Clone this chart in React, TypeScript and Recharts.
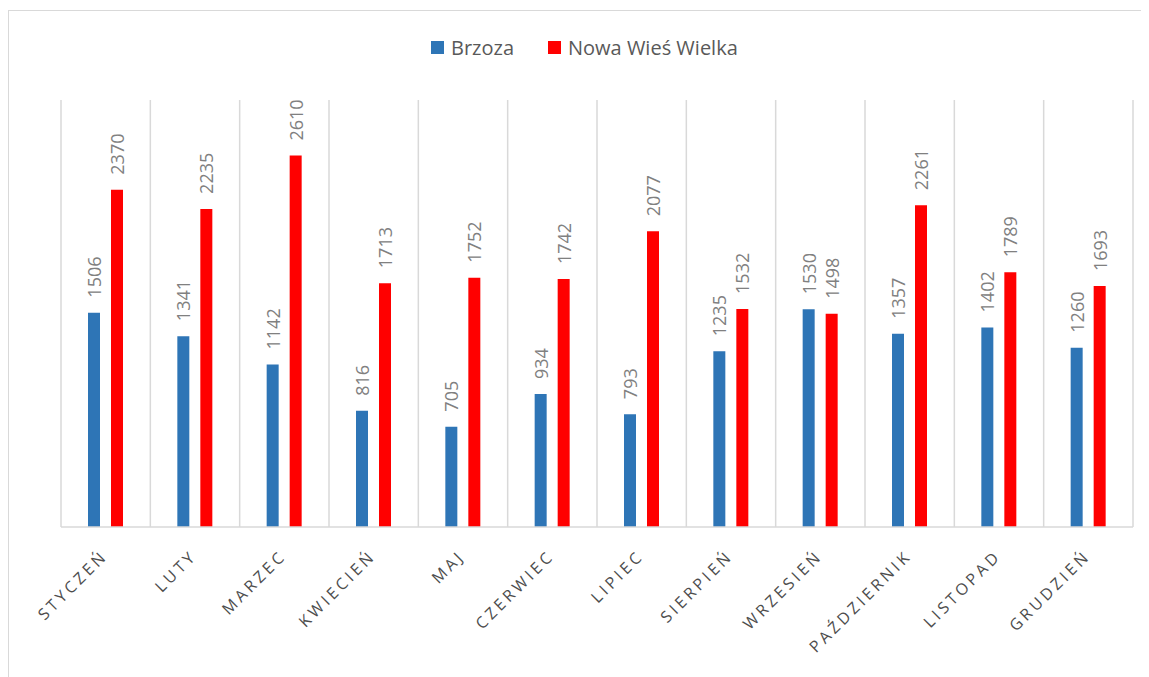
import React from 'react';
import {
  BarChart,
  Bar,
  XAxis,
  YAxis,
  CartesianGrid,
  Legend,
  LabelList
} from 'recharts';

// Data
const MONTHS = [
  'STYCZEŃ', 'LUTY', 'MARZEC', 'KWIECIEŃ', 'MAJ', 'CZERWIEC',
  'LIPIEC', 'SIERPIEŃ', 'WRZESIEŃ', 'PAŹDZIERNIK', 'LISTOPAD', 'GRUDZIEŃ'
];
const BRZOZA = [1506, 1341, 1142, 816, 705, 934, 793, 1235, 1530, 1357, 1402, 1260];
const NOWA_WIES = [2370, 2235, 2610, 1713, 1752, 1742, 2077, 1532, 1498, 2261, 1789, 1693];

const SERIES = [
  { key: 'brzoza', name: 'Brzoza', color: '#2e75b6' },
  { key: 'nww', name: 'Nowa Wieś Wielka', color: '#ff0000' }
];

const FONT = '"Open Sans", sans-serif';

const data = MONTHS.map((m, i) => ({ month: m, brzoza: BRZOZA[i], nww: NOWA_WIES[i] }));

const MonthTick = (props: any) => {
  const { x, y, payload } = props;
  return (
    <g transform={`translate(${x + 3},${y + 22})`}>
      <text
        transform="rotate(-45)"
        textAnchor="end"
        fill="#4d4d4d"
        fontSize={16}
        fontFamily={FONT}
        letterSpacing={3.4}
      >
        {payload.value}
      </text>
    </g>
  );
};

const ValueLabel = (props: any) => {
  const { x, y, width, value } = props;
  const cx = x + width / 2;
  const cy = y - 15;
  return (
    <text
      x={cx}
      y={cy}
      transform={`rotate(-90, ${cx}, ${cy})`}
      textAnchor="start"
      dominantBaseline="central"
      fill="#808080"
      fontSize={18}
      fontFamily={FONT}
    >
      {value}
    </text>
  );
};

const LegendContent = () => (
  <div style={{ display: 'flex', alignItems: 'center', fontFamily: FONT, fontSize: 20, color: '#595959' }}>
    {SERIES.map((s, i) => (
      <div key={s.key} style={{ display: 'flex', alignItems: 'center', marginRight: i === 0 ? 34 : 0 }}>
        <span style={{ display: 'inline-block', width: 13, height: 13, background: s.color, marginRight: 7 }} />
        <span>{s.name}</span>
      </div>
    ))}
  </div>
);

export default function App() {
  return (
    <div style={{ position: 'relative', width: 1141, height: 669 }}>
      <div style={{
        position: 'absolute',
        left: 0,
        top: 2,
        width: 1141,
        height: 667,
        borderTop: '1.5px solid #d9d9d9',
        borderLeft: '1.5px solid #d9d9d9',
        boxSizing: 'border-box'
      }} />
      <BarChart
        width={1141}
        height={669}
        data={data}
        margin={{ top: 92, right: 16, left: 53, bottom: 10 }}
        barSize={12}
        barGap={11}
      >
        <CartesianGrid
          horizontal={false}
          stroke="#d9d9d9"
          strokeWidth={1.5}
          verticalCoordinatesGenerator={({ offset }: any) =>
            MONTHS.map((_, i) => offset.left + (i * offset.width) / MONTHS.length)
              .concat([offset.left + offset.width])
          }
        />
        <XAxis
          dataKey="month"
          interval={0}
          height={140}
          tickLine={false}
          axisLine={{ stroke: '#d9d9d9', strokeWidth: 1.5 }}
          tick={<MonthTick />}
        />
        <YAxis hide domain={[0, 3000]} />
        <Legend
          layout="horizontal"
          verticalAlign="middle"
          content={<LegendContent />}
          wrapperStyle={{ top: 26, left: 423, width: 'auto' }}
        />
        {SERIES.map((s) => (
          <Bar key={s.key} dataKey={s.key} name={s.name} fill={s.color} isAnimationActive={false}>
            <LabelList dataKey={s.key} content={<ValueLabel />} />
          </Bar>
        ))}
      </BarChart>
    </div>
  );
}
